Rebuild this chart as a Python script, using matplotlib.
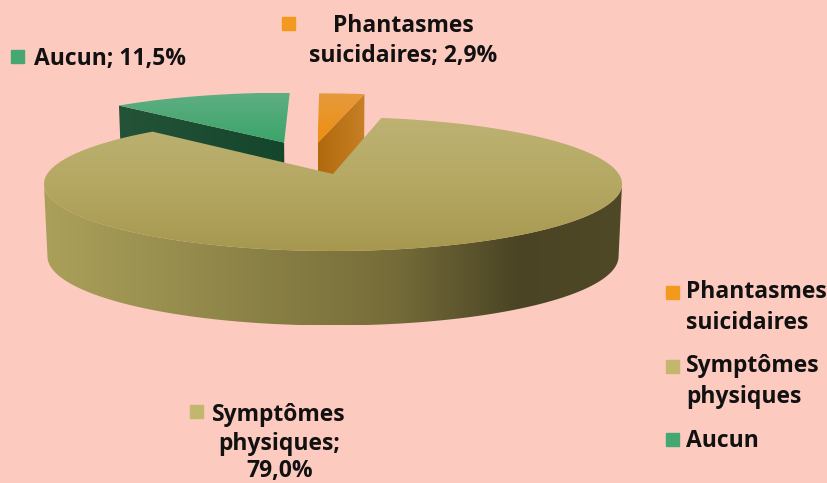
import matplotlib
matplotlib.use("Agg")
import matplotlib.pyplot as plt
from matplotlib.colors import LinearSegmentedColormap
from matplotlib.patches import Polygon, Rectangle
import numpy as np

# Donnees (ordre horaire a partir de midi)
categories = ["Phantasmes suicidaires", "Symptômes physiques", "Aucun"]
valeurs = [2.9, 79.0, 11.5]

couleurs_dessus = [["#E69A3C", "#EE8E10"], ["#BDB273", "#B5A863", "#A6984F"], ["#5FAE82", "#3AA46A"]]
couleurs_paroi = [["#B06A0C", "#C87F25"],
                  [(0, "#ABA05A"), (0.5, "#7F763F"), (0.62, "#736A38"), (0.82, "#4A4424"), (1, "#4F4928")],
                  ["#245338", "#14462B"]]
couleurs_legende = ["#F39A1E", "#C2B76C", "#45A873"]
fond = "#FDCAC0"

police = ["Open Sans", "DejaVu Sans"]

# Projection du disque
cx, cy, rx, ry, k = 333, 174, 285.8, 65.5, 0.149
eclatement = 0.26
profondeur = 72
decalage_x = [-2.5, 0, -3]
decalage_y = [0, 0, -1.5]


def projeter(u, v, bas=False):
    w = 1 + k * v
    x = rx * u / w
    y = cy - ry * v / w
    if bas:
        x = x * 0.988
        y = y + profondeur - 2.5 * v
    return cx + x, y


def peindre(points, couleurs, horizontal=False, z=1):
    cmap = LinearSegmentedColormap.from_list("g", couleurs)
    x0, y0 = points.min(axis=0)
    x1, y1 = points.max(axis=0)
    grad = np.linspace(0, 1, 256).reshape(1, -1) if horizontal else np.linspace(0, 1, 256).reshape(-1, 1)
    im = ax.imshow(grad, cmap=cmap, extent=[x0, x1, y1, y0], aspect="auto", zorder=z, interpolation="bilinear")
    im.set_clip_path(Polygon(points, closed=True, transform=ax.transData))


fig = plt.figure(figsize=(8.28, 4.83), dpi=100, facecolor=fond)
ax = fig.add_axes([0, 0, 1, 1])

# Angles des parts
fractions = np.array(valeurs) / sum(valeurs) * 2 * np.pi
fins = np.cumsum(fractions)
debuts = fins - fractions
milieux = (debuts + fins) / 2
# la grande part reste a l'origine de la projection
du = eclatement * (np.sin(milieux) - np.sin(milieux[1]))
dv = eclatement * (np.cos(milieux) - np.cos(milieux[1]))

for i in [2, 0, 1]:
    z = {2: 2, 0: 4, 1: 6}[i]
    t = np.linspace(debuts[i], fins[i], 400)
    u = du[i] + np.sin(t)
    v = dv[i] + np.cos(t)
    xh, yh = projeter(u, v)
    xb, yb = projeter(u, v, True)
    xa, ya = projeter(du[i], dv[i])
    xab, yab = projeter(du[i], dv[i], True)
    xh, xb, xa, xab = [q + decalage_x[i] for q in (xh, xb, xa, xab)]
    yh, yb, ya, yab = [q + decalage_y[i] for q in (yh, yb, ya, yab)]

    if i == 1:
        # paroi exterieure, seulement l'avant entre les deux extremes
        d, f = np.argmax(xh), np.argmin(xh)
        paroi = np.column_stack([np.r_[xh[d:f + 1], xb[d:f + 1][::-1]], np.r_[yh[d:f + 1], yb[d:f + 1][::-1]]])
        peindre(paroi, couleurs_paroi[i], True, z)
    else:
        # paroi de coupe visible
        j = -1 if i == 0 else 0
        paroi = np.array([[xa, ya], [xh[j], yh[j]], [xb[j], yb[j]], [xab, yab]])
        peindre(paroi, couleurs_paroi[i], True, z)

    dessus = np.column_stack([np.r_[xa, xh], np.r_[ya, yh]])
    peindre(dessus, couleurs_dessus[i], False, z + 1)

# Etiquettes
texte = dict(family=police, fontsize=16.5, fontweight="bold", color="#111111", zorder=10, va="baseline")
ax.add_patch(Rectangle((11, 50), 13, 13, color=couleurs_legende[2], zorder=10))
ax.text(34, 64.5, "Aucun; 11,5%", ha="left", **texte)
ax.add_patch(Rectangle((282, 17), 13, 13, color=couleurs_legende[0], zorder=10))
ax.text(403.5, 32, "Phantasmes", ha="center", **texte)
ax.text(403, 62, "suicidaires; 2,9%", ha="center", **texte)
ax.add_patch(Rectangle((190, 405), 13, 13, color=couleurs_legende[1], zorder=10))
ax.text(279, 421, "Symptômes", ha="center", **texte)
ax.text(279, 450, "physiques;", ha="center", **texte)
ax.text(280, 477, "79,0%", ha="center", **texte)

# Legende
lignes_legende = [["Phantasmes", "suicidaires"], ["Symptômes", "physiques"], ["Aucun"]]
y_legende = [298, 372, 447]
y_carres = [286, 360, 433]
for lignes, y, yc, c in zip(lignes_legende, y_legende, y_carres, couleurs_legende):
    ax.add_patch(Rectangle((666, yc), 13, 13, color=c, zorder=10))
    for n, ligne in enumerate(lignes):
        ax.text(686, y + n * 31, ligne, ha="left", **texte)

ax.set_xlim(0, 828)
ax.set_ylim(483, 0)
ax.axis("off")
fig.savefig("out.png", dpi=100, facecolor=fond)
